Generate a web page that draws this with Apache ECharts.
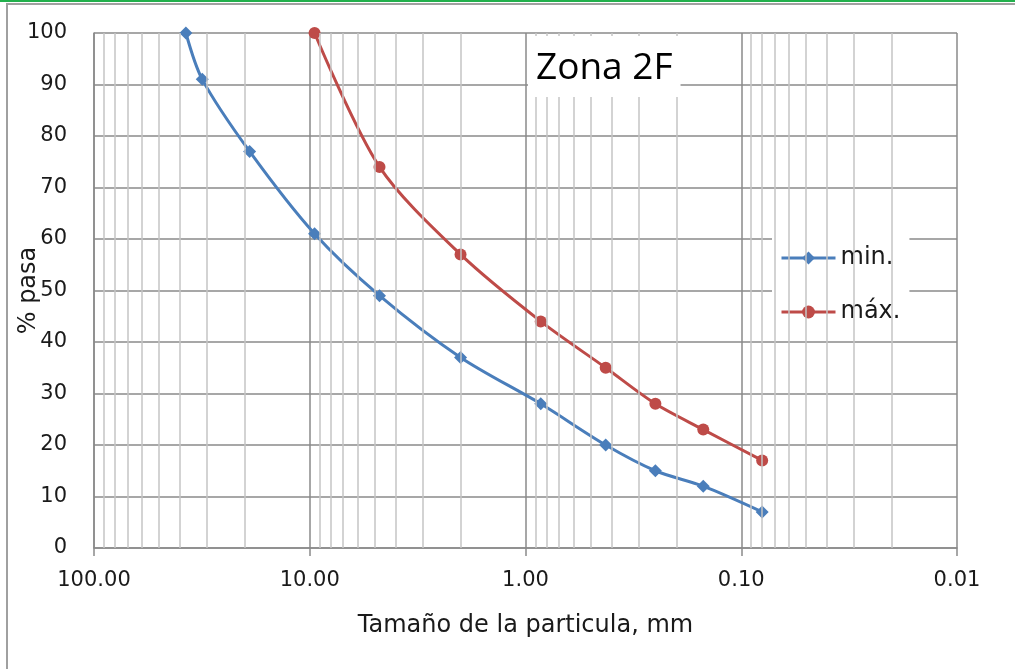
<!DOCTYPE html>
<html>
<head>
<meta charset="utf-8">
<script src="https://cdn.jsdelivr.net/npm/echarts@6/dist/echarts.min.js"></script>
<style>
  html, body { margin: 0; padding: 0; background: #fff; }
  #topline { position: absolute; left: 0; top: 0; width: 1015px; height: 2px; background: #22b04c; }
  #frame { position: absolute; left: 6px; top: 3px; width: 1009px; height: 666px; border-left: 2px solid #a0a0a0; border-top: 2px solid #a0a0a0; box-sizing: border-box; }
  #chart { position: absolute; left: 0; top: 0; width: 1015px; height: 669px; }
</style>
</head>
<body>
<div id="topline"></div>
<div id="frame"></div>
<div id="chart"></div>
<script>
// tamaño de tamiz (mm) y % que pasa
const minSizes = [37.5, 31.5, 19, 9.5, 4.75, 2.0, 0.85, 0.425, 0.25, 0.15, 0.08]
const minPass = [100, 91, 77, 61, 49, 37, 28, 20, 15, 12, 7]
const maxSizes = [9.5, 4.75, 2.0, 0.85, 0.425, 0.25, 0.15, 0.08]
const maxPass = [100, 74, 57, 44, 35, 28, 23, 17]

const decades = [0.01, 0.1, 1, 10]
const minorSteps = [2, 3, 4, 5, 6, 7, 8, 9]

const FONT = 'DejaVu Sans'
const majorColor = '#8a8a8a'
const minorColor = '#c4c4c4'

const minorLines = []
decades.forEach(d => {
  minorSteps.forEach(s => minorLines.push({ xAxis: +(d * s).toPrecision(3) }))
})

const chart = echarts.init(document.getElementById('chart'))

const option = {
  animation: false,
  title: {
    text: 'Zona 2F',
    left: 528,
    top: 36,
    backgroundColor: '#fff',
    padding: [14, 8, 10, 8],
    textStyle: {
      fontFamily: 'Open Sans',
      fontSize: 37,
      fontWeight: 'normal',
      color: '#000'
    }
  },
  legend: {
    data: ['min.', 'máx.'],
    orient: 'vertical',
    left: 772,
    top: 231,
    backgroundColor: '#fff',
    padding: [15, 9, 11, 8],
    itemWidth: 54,
    itemHeight: 16,
    itemGap: 30,
    lineStyle: { width: 3 },
    textStyle: {
      fontFamily: FONT,
      fontSize: 24,
      color: '#1a1a1a'
    }
  },
  grid: {
    left: 94,
    right: 58,
    top: 33,
    bottom: 121,
    outerBoundsMode: 'none'
  },
  xAxis: {
    type: 'log',
    logBase: 10,
    min: 0.01,
    max: 100,
    inverse: true,
    name: 'Tamaño de la particula, mm',
    nameLocation: 'middle',
    nameGap: 66,
    nameMoveOverlap: false,
    nameTextStyle: { fontFamily: FONT, fontSize: 24, color: '#1a1a1a' },
    axisLine: { lineStyle: { color: majorColor, width: 1.5 } },
    axisTick: { show: true, length: 8, lineStyle: { color: majorColor, width: 1.5 } },
    splitLine: { show: true, lineStyle: { color: majorColor, width: 1.5 } },
    axisLabel: {
      formatter: v => v.toFixed(2),
      fontFamily: FONT,
      fontSize: 21,
      color: '#1a1a1a',
      margin: 22
    }
  },
  yAxis: {
    type: 'value',
    min: 0,
    max: 100,
    interval: 10,
    name: '% pasa',
    nameLocation: 'middle',
    nameRotate: 90,
    nameGap: 53,
    nameMoveOverlap: false,
    nameTextStyle: { fontFamily: FONT, fontSize: 24, color: '#1a1a1a' },
    axisLine: { show: true, lineStyle: { color: majorColor, width: 1.5 } },
    axisTick: { show: false },
    splitLine: { show: true, lineStyle: { color: majorColor, width: 1.5 } },
    axisLabel: {
      fontFamily: FONT,
      fontSize: 21,
      color: '#1a1a1a',
      margin: 27
    }
  },
  series: [
    {
      name: 'minor',
      type: 'line',
      data: [],
      z: 1,
      silent: true,
      markLine: {
        silent: true,
        symbol: ['none', 'none'],
        label: { show: false },
        lineStyle: { color: minorColor, type: 'solid', width: 1.5 },
        data: minorLines
      }
    },
    {
      name: 'min.',
      type: 'line',
      z: 3,
      smooth: 0.3,
      symbol: 'diamond',
      symbolSize: 13,
      data: minSizes.map((s, i) => [s, minPass[i]]),
      lineStyle: { color: '#4a7ebb', width: 3 },
      itemStyle: { color: '#4a7ebb' }
    },
    {
      name: 'máx.',
      type: 'line',
      z: 3,
      smooth: 0.3,
      symbol: 'circle',
      symbolSize: 12,
      data: maxSizes.map((s, i) => [s, maxPass[i]]),
      lineStyle: { color: '#be4b48', width: 3 },
      itemStyle: { color: '#be4b48' }
    }
  ]
}

chart.setOption(option)
</script>
</body>
</html>
